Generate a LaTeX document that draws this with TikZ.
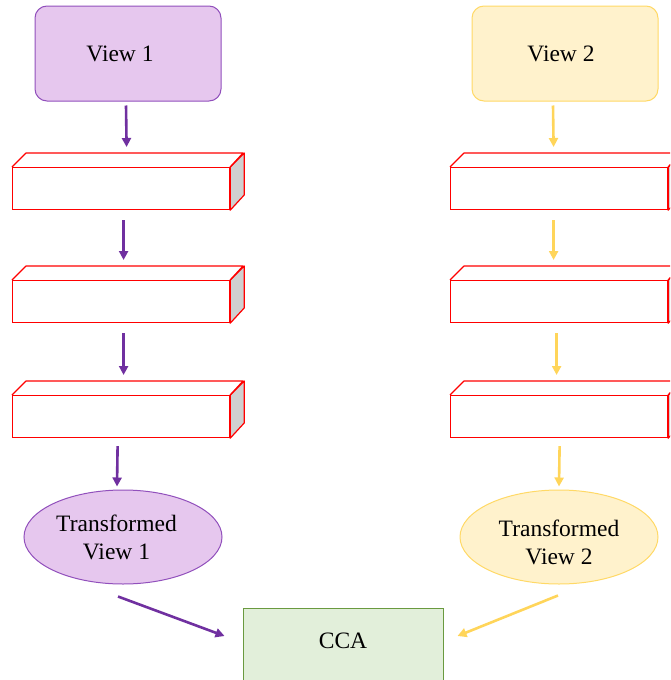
\documentclass[tikz,border=0pt]{standalone}
\usepackage{fontspec}
\setmainfont{Liberation Serif}
\usetikzlibrary{shapes.geometric,arrows.meta}
\definecolor{violetfill}{HTML}{E6C7EE}
\definecolor{violetline}{HTML}{9150BC}
\definecolor{violetarrow}{HTML}{7030A0}
\definecolor{goldfill}{HTML}{FFF2CC}
\definecolor{goldline}{HTML}{FFD966}
\definecolor{goldarrow}{HTML}{FFD55A}
\definecolor{greenfill}{HTML}{E2EFDA}
\definecolor{greenline}{HTML}{6A9A3F}
\definecolor{sideface}{HTML}{D0D0D0}
\tikzset{
  txt/.style={font=\fontsize{23.5}{28}\selectfont, text=black, align=center},
  viewbox/.style={txt, rectangle, rounded corners=12pt, minimum width=186pt, minimum height=95pt, inner sep=0pt, line width=1pt},
  tview/.style={txt, ellipse, minimum width=198pt, minimum height=94pt, inner sep=0pt, line width=1pt},
  front/.style={rectangle, draw=red, line width=1.2pt, minimum width=217pt, minimum height=42pt, inner sep=0pt, anchor=north west},
  cubeline/.style={draw=red, line width=1.2pt, line join=round},
  parr/.style={draw=violetarrow, line width=2.6pt, -{Triangle[length=9pt,width=9pt]}},
  garr/.style={draw=goldarrow, line width=2.6pt, -{Triangle[length=9pt,width=9pt]}},
}
% lower a line of text without changing its reported size
\newcommand\lowerby[2]{\raisebox{-#1}[\height][\depth]{#2}}
% a flat box drawn in cabinet projection: front face is a named node
\newcommand\layerbox[3]{%
  \node[front] (#1) at (#2,#3) {};
  \draw[cubeline, fill=sideface] (#1.north east) -- ++(14,-14) -- ++(0,42) -- (#1.south east) -- cycle;
  \draw[cubeline] (#1.north west) -- ++(14,-14) -- ++(217,0) -- (#1.north east);
  \coordinate (#1t) at ([xshift=7pt,yshift=14pt]#1.north);
}
\begin{document}
\begin{tikzpicture}[x=1pt,y=-1pt]
\useasboundingbox (0,0) rectangle (670,680);
\clip (0,0) rectangle (670,680);

% inputs
\node[viewbox, fill=violetfill, draw=violetline] (v1) at (128,53.5) {View 1\hspace*{16pt}};
\node[viewbox, fill=goldfill, draw=goldline] (v2) at (565,53.5) {View 2\hspace*{8pt}};

% layers, left column
\layerbox{l1}{12}{167}
\layerbox{l2}{12}{280}
\layerbox{l3}{12}{395}
% layers, right column
\layerbox{r1}{450}{167}
\layerbox{r2}{450}{280}
\layerbox{r3}{450}{395}

% outputs
\node[tview, fill=violetfill, draw=violetline] (e1) at (123,537) {Transformed\hspace*{13pt}\\View 1\hspace*{13pt}};
\node[tview, fill=goldfill, draw=goldline] (e2) at (559,537) {\lowerby{5pt}{Transformed}\\\lowerby{5pt}{View 2}};

% correlation block
\node[txt, rectangle, fill=greenfill, draw=greenline, line width=1pt, minimum width=200pt,
      inner sep=0pt, text height=40pt, text depth=50pt, anchor=north] (cca) at (343,608) {CCA};

% left chain
\draw[parr] ([xshift=-2pt,yshift=-4pt]v1.south) -- ([xshift=-1.5pt,yshift=6pt]l1t);
\draw[parr] ([xshift=2.5pt,yshift=-10pt]l1.south) -- ([xshift=-4.5pt,yshift=6pt]l2t);
\draw[parr] ([xshift=2.5pt,yshift=-10pt]l2.south) -- ([xshift=-4.5pt,yshift=6pt]l3t);
\draw[parr] ([xshift=-3.5pt,yshift=-8pt]l3.south) -- ([xshift=-6pt,yshift=3pt]e1.north);
% right chain
\draw[garr] ([xshift=-12pt,yshift=-4pt]v2.south) -- ([xshift=-12.5pt,yshift=6pt]r1t);
\draw[garr] ([xshift=-5.5pt,yshift=-10pt]r1.south) -- ([xshift=-12.5pt,yshift=6pt]r2t);
\draw[garr] ([xshift=-2.5pt,yshift=-10pt]r2.south) -- ([xshift=-9.5pt,yshift=6pt]r3t);
\draw[garr] ([xshift=0.5pt,yshift=-8pt]r3.south) -- ([xshift=0pt,yshift=3pt]e2.north);

% into CCA
\draw[parr] ([xshift=-5pt,yshift=-12pt]e1.south) -- ([xshift=-18pt,yshift=-28pt]cca.north west);
\draw[garr] ([xshift=-1pt,yshift=-11pt]e2.south) -- ([xshift=14pt,yshift=-28pt]cca.north east);
\end{tikzpicture}
\end{document}
